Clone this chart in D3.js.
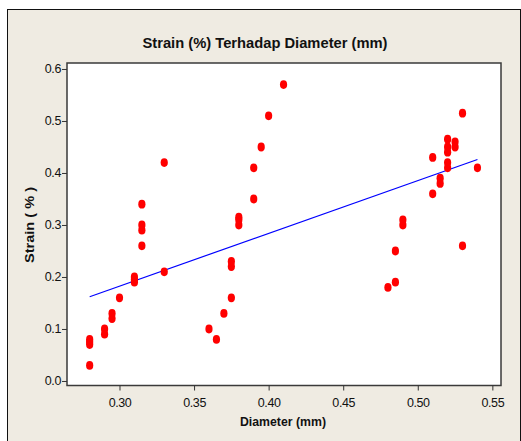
<!DOCTYPE html>
<html>
<head>
<meta charset="utf-8">
<script src="https://cdn.jsdelivr.net/npm/d3@7"></script>
<style>
  body { margin: 0; background: #fff; }
  text { font-family: "Liberation Sans", Arial, sans-serif; fill: #111; }
</style>
</head>
<body>
<svg width="521" height="441"></svg>
<script>
// data
const diameter = [
  0.28, 0.28, 0.28, 0.28, 0.29, 0.29, 0.295, 0.295, 0.30, 0.31, 0.31, 0.31,
  0.315, 0.315, 0.315, 0.315, 0.33, 0.33,
  0.36, 0.365, 0.37, 0.375, 0.375, 0.375, 0.38, 0.38, 0.38, 0.39, 0.39, 0.395, 0.40, 0.41,
  0.48, 0.485, 0.485, 0.49, 0.49, 0.51, 0.51, 0.515, 0.515, 0.52, 0.52, 0.52, 0.52, 0.52,
  0.525, 0.525, 0.53, 0.53, 0.54
];
const strain = [
  0.03, 0.07, 0.075, 0.08, 0.09, 0.10, 0.12, 0.13, 0.16, 0.19, 0.195, 0.20,
  0.26, 0.29, 0.30, 0.34, 0.21, 0.42,
  0.10, 0.08, 0.13, 0.16, 0.22, 0.23, 0.30, 0.31, 0.315, 0.35, 0.41, 0.45, 0.51, 0.57,
  0.18, 0.19, 0.25, 0.30, 0.31, 0.36, 0.43, 0.38, 0.39, 0.41, 0.42, 0.44, 0.45, 0.465,
  0.45, 0.46, 0.26, 0.515, 0.41
];
// fitted line end points
const fitX = [0.28, 0.54];
const fitY = [0.162, 0.426];

const xTicks = [0.30, 0.35, 0.40, 0.45, 0.50, 0.55];
const yTicks = [0.0, 0.1, 0.2, 0.3, 0.4, 0.5, 0.6];

const svg = d3.select('svg');

// outer panel
svg.append('rect')
  .attr('x', 7.5).attr('y', 9.5)
  .attr('width', 513).attr('height', 440)
  .attr('fill', '#efebe2')
  .attr('stroke', '#111').attr('stroke-width', 1);

const plotL = 67, plotR = 501, plotT = 63, plotB = 385.5;

const x = d3.scaleLinear().domain([0.2648, 0.5558]).range([plotL, plotR]);
const y = d3.scaleLinear().domain([-0.0087, 0.6115]).range([plotB, plotT]);

svg.append('rect')
  .attr('x', plotL).attr('y', plotT)
  .attr('width', plotR - plotL).attr('height', plotB - plotT)
  .attr('fill', '#fff')
  .attr('stroke', '#3a3a3a').attr('stroke-width', 1.5);

// axes
const gx = svg.append('g')
  .attr('transform', `translate(0,${plotB})`)
  .call(d3.axisBottom(x).tickValues(xTicks).tickFormat(d3.format('.2f'))
    .tickSize(5).tickPadding(8));
const gy = svg.append('g')
  .attr('transform', `translate(${plotL},0)`)
  .call(d3.axisLeft(y).tickValues(yTicks).tickFormat(d3.format('.1f'))
    .tickSize(5).tickPadding(1));

[gx, gy].forEach(g => {
  g.select('.domain').remove();
  g.selectAll('line').attr('stroke', '#333');
  g.selectAll('text')
    .attr('fill', '#111')
    .style('font-family', '"Liberation Sans", Arial, sans-serif')
    .style('font-size', '12.5px')
    .style('letter-spacing', '-0.4px');
});

// fitted line
svg.append('line')
  .attr('x1', x(fitX[0])).attr('y1', y(fitY[0]))
  .attr('x2', x(fitX[1])).attr('y2', y(fitY[1]))
  .attr('stroke', '#0000ff').attr('stroke-width', 1.2);

// points
svg.append('g')
  .selectAll('ellipse')
  .data(diameter.map((d, i) => [d, strain[i]]))
  .join('ellipse')
  .attr('cx', d => x(d[0]))
  .attr('cy', d => y(d[1]))
  .attr('rx', 3.6).attr('ry', 4.4)
  .attr('fill', '#ff0000');

// titles
svg.append('text')
  .attr('x', 265).attr('y', 48)
  .attr('text-anchor', 'middle')
  .attr('textLength', 245).attr('lengthAdjust', 'spacingAndGlyphs')
  .style('font-size', '14px').style('font-weight', 'bold')
  .text('Strain (%) Terhadap Diameter (mm)');

svg.append('text')
  .attr('x', 283).attr('y', 426)
  .attr('text-anchor', 'middle')
  .attr('textLength', 86).attr('lengthAdjust', 'spacingAndGlyphs')
  .style('font-size', '13px').style('font-weight', 'bold')
  .text('Diameter (mm)');

svg.append('text')
  .attr('transform', 'translate(33.5,225) rotate(-90)')
  .attr('text-anchor', 'middle')
  .attr('textLength', 76).attr('lengthAdjust', 'spacingAndGlyphs')
  .style('font-size', '13px').style('font-weight', 'bold')
  .text('Strain ( % )');
</script>
</body>
</html>
